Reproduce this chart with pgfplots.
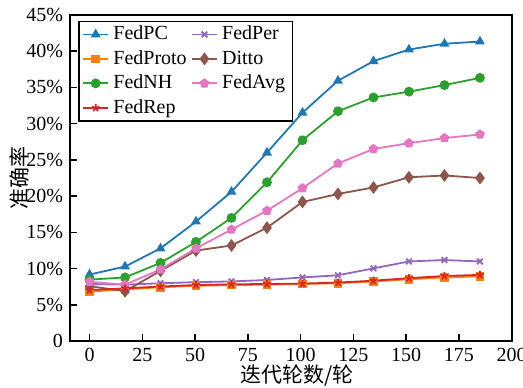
\documentclass[border=0pt]{standalone}
\usepackage{fontspec}
\setmainfont{Liberation Serif}
\newfontfamily\cjk{Noto Sans CJK SC}
\usepackage{pgfplots}
\pgfplotsset{compat=1.18}
\definecolor{c0}{HTML}{1F77B4}
\definecolor{c1}{HTML}{FF7F0E}
\definecolor{c2}{HTML}{2CA02C}
\definecolor{c3}{HTML}{D62728}
\definecolor{c4}{HTML}{9467BD}
\definecolor{c5}{HTML}{8C564B}
\definecolor{c6}{HTML}{E377C2}
\begin{document}
\begin{tikzpicture}
\useasboundingbox (-35pt,-22.85pt) rectangle (226.5pt,170.65pt);
\begin{axis}[
  at={(0,0)}, anchor=south west,
  scale only axis,
  width=220.8pt, height=163.3pt,
  xmin=-9.25, xmax=200, ymin=0, ymax=45,
  xtick={0,25,50,75,100,125,150,175,200},
  ytick={0,5,10,15,20,25,30,35,40,45},
  yticklabels={0,5\%,10\%,15\%,20\%,25\%,30\%,35\%,40\%,45\%},
  tick pos=left, tick align=inside,
  major tick length=3.5pt,
  tick style={black, line width=0.7pt},
  axis line style={black, line width=1.1pt},
  /pgf/number format/assume math mode=true,
  ticklabel style={font=\fontsize{10}{12}\selectfont},
  xlabel={\cjk 迭代轮数/轮},
  ylabel={\cjk 准确率},
  every axis x label/.style={at={(axis description cs:0.5,0)}, yshift=-17pt, xshift=3pt, anchor=center},
  every axis y label/.style={at={(axis description cs:0,0.5)}, xshift=-25.5pt, rotate=90, anchor=center},
  label style={font=\fontsize{10.5}{12}\selectfont},
  legend columns=2,
  legend style={at={(0.019,0.982)}, anchor=north west, draw=black, line width=0.6pt,
    font=\fontsize{10}{11.5}\selectfont, inner xsep=1.5pt, inner ysep=0.4pt, row sep=-0.2pt,
    /tikz/every even column/.append style={column sep=0pt}},
  legend cell align=left,
  legend image code/.code={\draw[mark repeat=2,mark phase=2] plot coordinates {(0cm,0cm) (0.225cm,0cm) (0.45cm,0cm)};},
  every axis plot/.append style={line width=0.9pt},
]
\addplot[c0, mark=triangle*, mark size=2pt] coordinates {
(0,9.2) (16.82,10.3) (33.64,12.8) (50.45,16.5) (67.27,20.6) (84.09,26.0) (100.91,31.5) (117.73,35.9) (134.55,38.6) (151.36,40.2) (168.18,41.0) (185,41.3)};
\addlegendentry{FedPC}
\addplot[c4, mark=x, mark size=2pt] coordinates {
(0,7.9) (16.82,7.8) (33.64,8.0) (50.45,8.15) (67.27,8.25) (84.09,8.45) (100.91,8.8) (117.73,9.1) (134.55,10.05) (151.36,11.0) (168.18,11.2) (185,11.0)};
\addlegendentry{FedPer}
\addplot[c1, mark=square*, mark size=1.7pt] coordinates {
(0,6.85) (16.82,7.15) (33.64,7.45) (50.45,7.65) (67.27,7.75) (84.09,7.8) (100.91,7.9) (117.73,8.0) (134.55,8.25) (151.36,8.55) (168.18,8.8) (185,8.95)};
\addlegendentry{FedProto}
\addplot[c5, mark=diamond*, mark size=2.5pt] coordinates {
(0,7.6) (16.82,6.9) (33.64,9.7) (50.45,12.5) (67.27,13.2) (84.09,15.65) (100.91,19.2) (117.73,20.3) (134.55,21.2) (151.36,22.6) (168.18,22.85) (185,22.5)};
\addlegendentry{Ditto}
\addplot[c2, mark=*, mark size=2pt] coordinates {
(0,8.5) (16.82,8.8) (33.64,10.8) (50.45,13.7) (67.27,17.0) (84.09,21.9) (100.91,27.7) (117.73,31.7) (134.55,33.6) (151.36,34.4) (168.18,35.3) (185,36.3)};
\addlegendentry{FedNH}
\addplot[c6, mark=pentagon*, mark size=2pt] coordinates {
(0,8.2) (16.82,7.8) (33.64,9.9) (50.45,12.8) (67.27,15.4) (84.09,18.0) (100.91,21.1) (117.73,24.5) (134.55,26.5) (151.36,27.3) (168.18,28.0) (185,28.5)};
\addlegendentry{FedAvg}
\addplot[c3, mark=star, mark size=2pt] coordinates {
(0,7.05) (16.82,7.3) (33.64,7.55) (50.45,7.75) (67.27,7.85) (84.09,7.9) (100.91,7.95) (117.73,8.1) (134.55,8.35) (151.36,8.7) (168.18,9.0) (185,9.15)};
\addlegendentry{FedRep}
\end{axis}
\end{tikzpicture}
\end{document}
